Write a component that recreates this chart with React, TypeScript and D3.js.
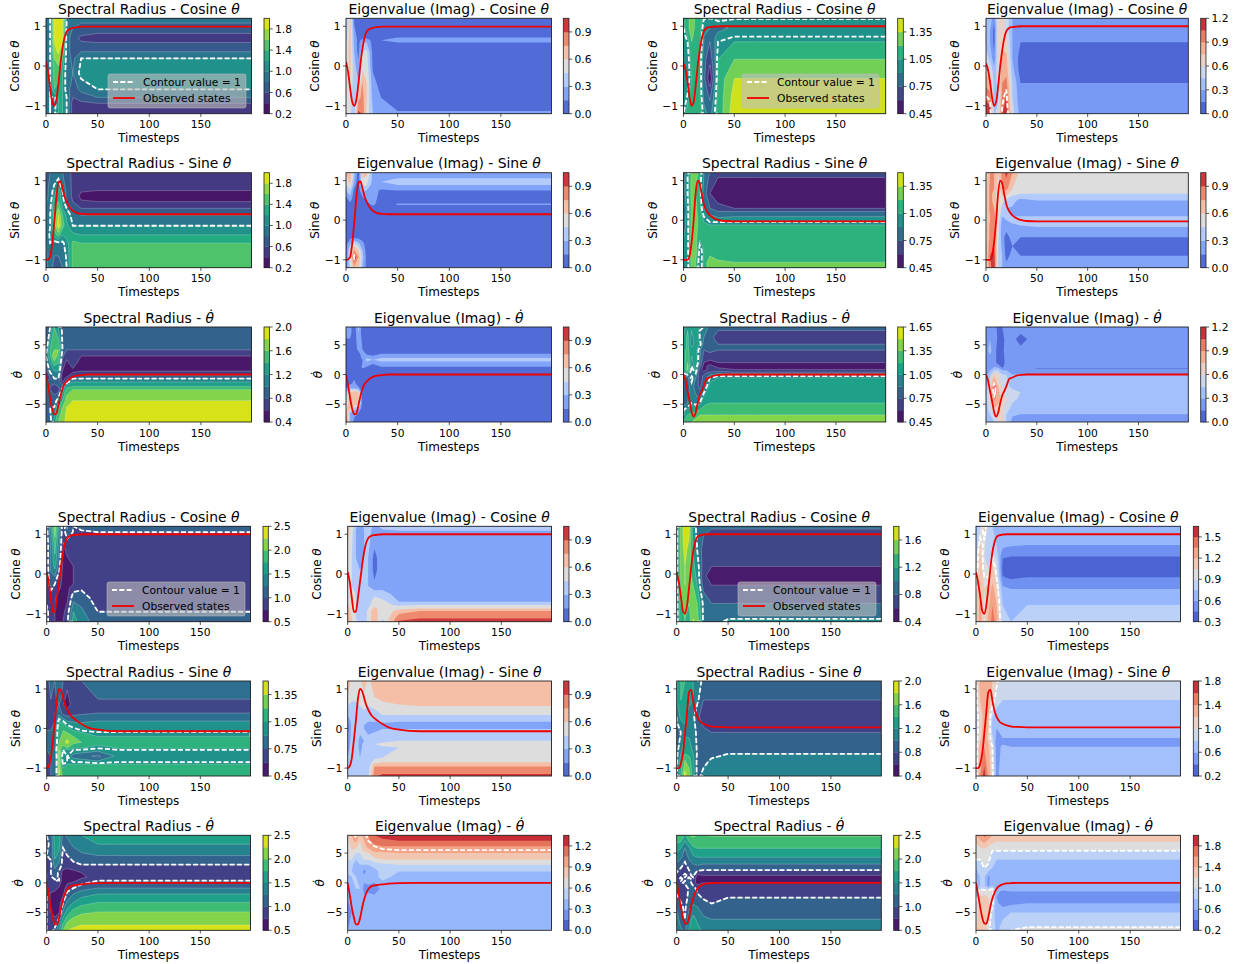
import React from 'react';
import * as d3 from 'd3';

// ---------- shared data ----------
const colT = [0, 4, 8, 12, 16, 20, 26, 34, 50, 70, 199];
const obsT = [0, 2, 4, 6, 8, 10, 12, 14, 16, 18, 20, 23, 26, 30, 35, 40, 50, 70, 199];

const cosA = [.11, -.15, -.55, -.9, -1, -.85, -.45, .05, .45, .72, .87, .93, .96, .98, .99, .99, .99, .99, .99];
const sinA = [-1, -.99, -.93, -.6, -.05, .55, .95, .98, .8, .6, .47, .32, .24, .18, .16, .15, .15, .15, .15];
const dotA = [0, -1.8, -4, -5.8, -6.7, -6.6, -5.2, -3.6, -2.4, -1.6, -1.2, -.7, -.4, -.2, -.1, 0, 0, 0, 0];
const cosB = [.07, -.1, -.4, -.8, -1, -.9, -.5, 0, .4, .7, .88, .96, .98, .99, 1, 1, 1, 1, 1];
const sinB = [-1, -1, -1, -.9, -.55, 0, .7, 1, .92, .65, .4, .22, .12, .05, 0, -.02, -.03, -.03, -.03];
const dotB = [0, -1, -2.8, -4.5, -6.3, -7.1, -6.4, -4.8, -3.5, -2.8, -2, -.7, -.5, -.2, -.05, 0, 0, 0, 0];
const cosC = [.05, -.2, -.6, -.95, -.95, -.6, -.2, .2, .55, .78, .9, .96, .98, .99, 1, 1, 1, 1, 1];
const sinC = [-1, -.95, -.75, -.3, .2, .75, 1, .95, .78, .6, .48, .34, .26, .18, .1, .03, -.03, -.07, -.07];
const dotC = [0, -2, -4.2, -5.8, -7, -7, -6, -4.3, -2.8, -1.8, -1.1, -.6, -.45, -.35, -.25, -.15, -.05, 0, 0];
const cosD = [.05, -.2, -.55, -.92, -1, -.8, -.35, .15, .55, .8, .93, .98, .99, 1, 1, 1, 1, 1, 1];
const sinD = [-1, -1, -.9, -.65, -.15, .4, .92, .98, .7, .45, .3, .17, .12, .08, .05, .04, .03, .03, .03];
const dotD = [0, -2, -4, -5.8, -6.8, -6.9, -5.8, -4, -2.6, -1.7, -1, -.5, -.25, -.1, -.03, 0, 0, 0, 0];

// Each row: state value, then the field at t = 0,4,8,12,16,20,26,34,50 and the settled value.
const specCosA = [
  [1.2, .85, 1, 1.9, 1.9, 1.85, .95, .9, .9, .9, .9],
  [1.08, .85, 1, 1.9, 1.9, 1.85, 1, .85, .8, .8, .8],
  [.82, .85, 1, 1.85, 1.9, 1.82, .9, .75, .65, .6, .6],
  [.7, .85, 1, 1.85, 1.9, 1.8, .9, .7, .55, .5, .5],
  [.59, .85, 1, 1.8, 1.9, 1.8, .9, .7, .62, .6, .6],
  [.36, .9, 1, 1.7, 1.85, 1.6, .9, .7, .8, .8, .8],
  [.19, .9, 1, 1.6, 1.7, 1.4, .9, .75, 1, 1, 1],
  [-.18, .9, 1, 1.5, 1.5, 1.2, .9, .8, 1.08, 1.1, 1.1],
  [-.59, .9, 1, 1.4, 1.3, 1.2, .9, .7, .85, 1, 1],
  [-.79, .9, 1, .95, 1.2, 1.2, 1, .6, .7, .8, .8],
  [-.94, .9, 1, .9, 1.2, 1.2, 1, .5, .55, .6, .6],
  [-1.2, .9, 1, .95, 1.2, 1.2, 1, .5, .5, .5, .5],
];
const eigCosA = [
  [1.2, .3, .65, .1, .05, .05, .05, .05, .05, .05, .05],
  [.72, .4, .65, .25, .08, .1, .1, .05, .1, .15, .15],
  [.65, .4, .65, .25, .1, .2, .25, .08, .15, .22, .22],
  [.59, .45, .65, .25, .1, .3, .3, .08, .08, .15, .15],
  [.35, .5, .65, .3, .1, .45, .5, .1, .05, .05, .05],
  [0, .5, .65, .35, .2, .55, .55, .12, .05, .05, .05],
  [-.4, .55, .6, .35, .3, .75, .6, .2, .08, .05, .05],
  [-.8, .6, .55, .3, .7, .8, .6, .25, .15, .05, .05],
  [-1.13, .55, .5, .3, .9, .85, .55, .3, .2, .15, .15],
  [-1.2, .5, .5, .3, 1, .9, .55, .3, .22, .2, .2],
];
const specSinA = [
  [1.2, .7, .8, .8, .85, .8, .7, .55, .5, .5, .5],
  [.75, .75, .85, 1.1, 1.3, 1, .75, .55, .42, .4, .4],
  [.61, .75, .85, 1.2, 1.35, 1.05, .75, .55, .35, .3, .3],
  [.47, .8, .9, 1.3, 1.4, 1.1, .8, .6, .42, .4, .4],
  [.3, .8, .95, 1.4, 1.6, 1.2, 1, .75, .6, .6, .6],
  [.13, .8, 1, 1.5, 1.8, 1.4, 1.15, .9, .8, .8, .8],
  [-.14, .8, 1, 1.5, 1.9, 1.5, 1.25, 1, 1, 1, 1],
  [-.37, .8, 1.05, 1.3, 1.5, 1.2, 1.3, 1.25, 1.2, 1.2, 1.2],
  [-.58, .8, 1, .9, .95, .95, 1.1, 1.45, 1.4, 1.4, 1.4],
  [-.9, .75, .95, .8, .8, .8, 1.05, 1.45, 1.45, 1.45, 1.45],
  [-1.2, .75, .9, .7, .7, .8, 1, 1.45, 1.5, 1.5, 1.5],
];
const eigSinA = [
  [1.2, .6, .7, .35, .05, .6, .65, .25, .2, .2, .2],
  [1.06, .55, .7, .3, .05, .6, .55, .25, .28, .3, .3],
  [.97, .5, .65, .25, .05, .55, .5, .25, .3, .37, .37],
  [.89, .45, .6, .2, .05, .5, .45, .22, .25, .3, .3],
  [.75, .3, .4, .1, .05, .35, .3, .2, .13, .15, .15],
  [.55, .1, .25, .05, .05, .1, .2, .2, .1, .08, .08],
  [.4, .05, .1, .05, .05, .05, .1, .18, .08, .16, .16],
  [.25, .05, .05, .03, .03, .03, .03, .05, .05, .08, .08],
  [0, .03, .03, .03, .03, .03, .03, .03, .03, .03, .03],
  [-.45, .05, .13, .15, .13, .1, .05, .03, .03, .03, .03],
  [-.6, .08, .3, .5, .35, .2, .08, .03, .03, .03, .03],
  [-.75, .1, .45, .75, .6, .3, .08, .03, .03, .03, .03],
  [-.92, .1, .5, 1.06, .75, .35, .1, .03, .03, .03, .03],
  [-1.2, .1, .45, .7, .65, .3, .1, .03, .03, .03, .03],
];
const specDotA = [
  [8, .9, 1, 1.4, 1.2, .95, .85, .85, .9, .9, .9],
  [4.15, .9, 1.4, 1.6, 1.6, 1, .8, .8, .8, .8, .8],
  [3.1, 1, 1.4, 1.8, 1.5, .85, .65, .6, .6, .6, .6],
  [1.9, .9, 1.2, 1.5, 1.4, .7, .55, .7, .5, .5, .5],
  [.57, .7, 1.05, 1.2, 1.2, .6, .45, .55, .6, .6, .6],
  [-.1, .6, .9, 1.1, 1.1, .5, .5, .7, .8, .8, .8],
  [-.68, .7, .8, 1, 1, .5, .7, 1, 1, 1, 1],
  [-1.25, .8, .8, .9, .9, .55, .9, 1.2, 1.2, 1.2, 1.2],
  [-2, .8, .8, .7, .8, .9, 1.3, 1.4, 1.4, 1.4, 1.4],
  [-2.55, .8, .8, .7, .7, 1.1, 1.5, 1.6, 1.6, 1.6, 1.6],
  [-4.4, .8, .9, .9, 1.1, 1.4, 1.7, 1.8, 1.8, 1.8, 1.8],
  [-5.5, .8, 1, 1, 1.4, 1.6, 1.8, 1.85, 1.9, 1.9, 1.9],
  [-8, .9, .9, 1.3, 1.6, 1.75, 1.85, 1.9, 1.95, 1.95, 1.95],
];
const eigDotA = [
  [8, .2, .2, .05, .35, .05, .05, .05, .05, .05, .05],
  [7, .2, .2, .05, .3, .05, .05, .05, .05, .05, .05],
  [4.2, .05, .05, .05, .2, .15, .05, .05, .05, .05, .05],
  [3.5, .05, .05, .05, .08, .25, .12, .1, .15, .15, .15],
  [2.8, .05, .05, .05, .05, .2, .3, .2, .3, .3, .3],
  [2.5, .05, .05, .05, .05, .15, .35, .3, .35, .37, .37],
  [2.2, .05, .05, .05, .05, .15, .3, .2, .3, .3, .3],
  [1.3, .05, .05, .05, .05, .18, .15, .1, .15, .15, .15],
  [.5, .05, .05, .05, .05, .1, .05, .05, .05, .05, .05],
  [-1.5, .1, .1, .2, .05, .05, .05, .05, .05, .05, .05],
  [-2.3, .15, .3, .3, .2, .05, .05, .05, .05, .05, .05],
  [-3, .3, .65, .7, .65, .05, .05, .05, .05, .05, .05],
  [-5, .5, .7, .7, .6, .08, .05, .05, .05, .05, .05],
  [-5.8, .6, .6, .35, .3, .05, .05, .05, .05, .05, .05],
  [-6.5, .8, .3, .2, .15, .05, .05, .05, .05, .05, .05],
  [-8, .95, .3, .1, .05, .05, .05, .05, .05, .05, .05],
];

const specCosB = [
  [1.2, 1.05, 1.1, 1.35, 1.15, 1.15, 1, 1, 1.1, 1.03, 1.03],
  [1.18, 1.05, 1.1, 1.35, 1.15, 1.15, 1, .95, 1.05, 1, 1],
  [.96, 1, 1.15, 1.3, 1.15, 1.1, .95, .9, .85, .93, .93],
  [.74, .95, 1.05, 1.25, 1.1, 1.1, .9, .8, .95, 1, 1],
  [.61, .95, 1, 1.2, 1.1, 1.1, .9, .75, 1, 1.05, 1.05],
  [.17, .95, .95, 1.1, 1.05, 1.1, .8, .65, 1.05, 1.2, 1.2],
  [-.31, .9, .95, 1.05, 1.05, 1.1, .8, .48, 1.1, 1.35, 1.35],
  [-.7, .95, 1, 1.1, 1.1, 1.1, .85, .7, 1.1, 1.4, 1.4],
  [-1.2, 1, 1.1, 1.2, 1.2, 1.15, .95, .85, 1.1, 1.45, 1.45],
];
const eigCosB = [
  [1.2, .3, .4, .2, .65, .65, .55, .3, .25, .25, .25],
  [.9, .3, .3, .1, .65, .65, .55, .3, .25, .25, .25],
  [.6, .35, .3, .1, .7, .7, .65, .3, .15, .15, .15],
  [.2, .55, .4, .2, .6, .8, .8, .3, .08, .08, .08],
  [-.1, .7, .6, .35, .55, .85, .85, .35, .08, .07, .07],
  [-.43, .85, .8, .4, .5, .9, .95, .45, .15, .15, .15],
  [-.75, 1, .95, .35, .4, .95, 1.05, .45, .2, .25, .25],
  [-1, 1.1, 1.05, .3, .5, 1, 1.1, .5, .2, .25, .25],
  [-1.2, 1.2, 1.1, .4, .6, 1.05, 1.2, .5, .25, .25, .25],
];
const specSinB = [
  [1.2, .85, .95, 1.2, 1.3, 1.1, .9, .75, .7, .7, .7],
  [1.08, .85, 1, 1.25, 1.3, 1.05, .9, .7, .6, .6, .6],
  [.68, .85, 1, 1.25, 1.2, 1.05, .85, .6, .5, .5, .5],
  [.3, .8, .95, 1.25, 1.25, 1.1, .9, .75, .65, .6, .6],
  [.22, .8, .95, 1.25, 1.25, 1.1, .95, .8, .75, .75, .75],
  [.09, .85, .95, 1.25, 1.25, 1.15, 1, .95, .88, .9, .9],
  [-.05, .85, .95, 1.25, 1.25, 1.15, 1.05, 1, 1, 1, 1],
  [-.12, .85, .95, 1.25, 1.25, 1.15, 1.1, 1.05, 1.05, 1.05, 1.05],
  [-.5, .9, .95, 1.3, 1.25, 1.05, 1.05, 1.1, 1.1, 1.1, 1.1],
  [-.75, .9, .95, 1.3, 1.3, .95, 1.05, 1.1, 1.1, 1.1, 1.1],
  [-1.06, .9, .95, 1.25, 1.2, .9, 1.1, 1.3, 1.22, 1.2, 1.2],
  [-1.2, .9, .95, 1.25, 1.2, .9, 1.1, 1.3, 1.3, 1.25, 1.25],
];
const eigSinB = [
  [1.2, .55, .75, .75, .6, .8, .95, .75, .55, .55, .55],
  [.8, .55, .8, .75, .5, .75, .8, .6, .5, .5, .5],
  [.67, .55, .8, .7, .45, .65, .65, .5, .45, .45, .45],
  [.5, .55, .8, .7, .5, .5, .4, .35, .25, .3, .3],
  [.29, .55, .8, .75, .6, .4, .3, .28, .2, .22, .22],
  [.1, .55, .75, .8, .6, .3, .3, .3, .3, .3, .3],
  [0, .55, .75, .8, .55, .25, .3, .35, .37, .38, .38],
  [-.17, .55, .8, .85, .5, .2, .2, .25, .28, .3, .3],
  [-.43, .55, .8, .9, .5, .2, .1, .2, .15, .15, .15],
  [-.66, .55, .85, .9, .45, .25, .08, .15, .06, .08, .08],
  [-.9, .55, .9, .95, .45, .3, .1, .2, .15, .15, .15],
  [-1.2, .55, .85, 1, .4, .3, .2, .25, .25, .25, .25],
];
const specDotB = [
  [8, 1, 1.1, 1.05, 1.1, 1.05, 1, .85, .85, .85, .85],
  [7.4, 1, 1.2, 1.05, 1.15, 1, .95, .85, .75, .75, .75],
  [6.25, 1.05, 1.25, 1, 1.15, 1, .9, .8, .68, .68, .68],
  [5.1, 1.1, 1.25, 1, 1.1, 1.05, .85, .75, .75, .75, .75],
  [4.6, 1.1, 1.25, 1.05, 1.1, 1, .8, .8, .82, .82, .82],
  [4.1, 1.15, 1.25, 1.1, 1.1, .95, .75, .8, .75, .75, .75],
  [2, 1.1, 1.35, 1, 1.15, .9, .6, .55, .6, .6, .6],
  [1.4, 1.05, 1.4, 1, 1.1, .8, .55, .65, .55, .52, .52],
  [.85, 1.05, 1.4, .95, 1.1, .7, .5, .7, .65, .6, .6],
  [.4, 1, 1.25, .9, 1.05, .65, .65, .75, .8, .75, .75],
  [.17, 1, 1.05, .9, 1, .6, .7, .85, .9, .9, .9],
  [-.28, .9, .95, 1, .95, .65, .8, .95, 1, 1, 1],
  [-.57, .85, .85, 1.05, .9, .65, .8, 1, 1.05, 1.05, 1.05],
  [-2, .8, .85, .95, .85, .7, .9, 1.1, 1.1, 1.1, 1.1],
  [-4.8, .85, .9, 1, .95, 1, 1.15, 1.2, 1.2, 1.2, 1.2],
  [-6.8, 1.1, 1.2, 1.25, 1.3, 1.35, 1.35, 1.35, 1.35, 1.35, 1.35],
  [-8, 1.2, 1.3, 1.35, 1.4, 1.45, 1.45, 1.45, 1.45, 1.45, 1.45],
];
const eigDotB = [
  [8, .25, .25, .2, .12, .15, .25, .25, .25, .25, .25],
  [6, .2, .3, .25, .12, .1, .2, .2, .08, .25, .25],
  [4, .25, .35, .2, .1, .12, .2, .2, .2, .25, .25],
  [2, .2, .2, .2, .1, .08, .2, .25, .25, .25, .25],
  [1.3, .2, .2, .3, .25, .1, .25, .25, .25, .2, .2],
  [1, .2, .2, .35, .35, .2, .25, .25, .2, .14, .14],
  [.7, .2, .3, .45, .45, .3, .3, .25, .25, .2, .2],
  [0, .25, .4, .7, .65, .45, .45, .3, .3, .3, .3],
  [-2, .3, .65, 1.1, .75, .55, .5, .4, .42, .38, .38],
  [-3, .35, .65, 1.1, .8, .65, .55, .5, .45, .38, .38],
  [-4, .4, .65, .95, .8, .7, .6, .5, .42, .38, .38],
  [-6, .4, .5, .7, .7, .65, .5, .38, .36, .32, .32],
  [-6.7, .35, .45, .55, .65, .65, .45, .32, .3, .3, .3],
  [-8, .3, .35, .45, .6, .65, .45, .25, .25, .25, .25],
];

const specCosC = [
  [1.2, .9, 1.5, 2.2, 1.5, .8, 1.3, 1, 1.1, 1.1, 1.1],
  [1.05, .9, 1.4, 2.1, 1.4, .8, 1.2, .98, .95, 1, 1],
  [.8, .85, 1.3, 1.9, 1.3, .75, .9, .8, .85, .85, .85],
  [.2, .85, 1.3, 1.6, 1.1, .7, .65, .75, .85, .85, .85],
  [-.25, .8, 1.15, 1, .8, .7, .6, .75, .85, .85, .85],
  [-.35, .8, 1.05, .95, .8, .65, .65, .9, .95, .85, .85],
  [-.6, .9, .85, .8, .6, .7, .7, 1.15, 1.15, .85, .85],
  [-.95, 1.1, .8, .75, .6, .7, .85, 1.5, 1.3, 1, 1],
  [-1.2, 1.1, .8, .75, .7, .75, .95, 1.6, 1.4, 1.1, 1.1],
];
const eigCosC = [
  [1.2, .65, .55, .35, .15, .35, .4, .25, .35, .35, .35],
  [1.09, .65, .5, .3, .15, .3, .35, .25, .28, .3, .3],
  [.4, .55, .45, .3, .2, .3, .3, .1, .25, .25, .25],
  [.1, .5, .45, .35, .3, .3, .3, .1, .25, .25, .25],
  [-.3, .5, .45, .4, .3, .35, .3, .18, .25, .25, .25],
  [-.5, .5, .45, .45, .35, .35, .3, .4, .35, .25, .25],
  [-.7, .6, .5, .45, .4, .35, .35, .55, .5, .3, .3],
  [-.78, .6, .5, .45, .4, .35, .4, .55, .5, .42, .45],
  [-.87, .65, .55, .45, .4, .35, .45, .65, .5, .55, .6],
  [-.93, .7, .55, .45, .4, .35, .5, .7, .45, .68, .75],
  [-1.12, .75, .6, .45, .4, .35, .5, .7, .45, .85, .9],
  [-1.2, .75, .6, .5, .4, .35, .5, .7, .4, .92, .95],
];
const specSinC = [
  [1.2, .7, .8, .75, .85, .75, .65, .75, .75, .85, .85],
  [.74, .65, .75, .7, .85, .65, .55, .7, .7, .75, .75],
  [.6, .65, .7, .7, .75, .6, .55, .65, .65, .7, .7],
  [.39, .65, .7, .75, .85, .7, .65, .7, .72, .75, .75],
  [.19, .7, .7, .75, 1.05, 1, .9, .88, .88, .9, .9],
  [-.05, .75, .75, .8, 1.15, 1.2, 1.15, 1.05, 1, .98, .98],
  [-.2, .75, .8, .8, 1.15, 1.25, 1.3, 1.2, 1.15, 1.05, 1.05],
  [-.35, .75, .8, .8, 1.2, 1.3, 1.4, 1.25, 1.2, 1.1, 1.12],
  [-.5, .75, .8, .8, 1.3, 1.1, 1.2, 1.05, 1.05, 1, 1.05],
  [-.54, .75, .8, .8, 1.35, 1, 1.05, 1, 1, .95, 1],
  [-.7, .7, .75, .75, 1.35, .9, 1, .85, .8, .72, .95],
  [-.85, .7, .75, .75, 1.35, .95, 1, 1, 1, .95, 1],
  [-.9, .7, .75, .75, 1.35, 1, 1.05, 1.05, 1.05, 1.05, 1.05],
  [-1.2, .7, .75, .75, 1.4, 1.15, 1.1, 1.12, 1.12, 1.12, 1.12],
];
const eigSinC = [
  [1.2, .7, .55, .5, .55, .7, .55, .7, .7, .7, .7],
  [.8, .6, .5, .5, .5, .55, .5, .6, .65, .7, .7],
  [.57, .45, .4, .4, .45, .5, .45, .5, .55, .58, .6],
  [.34, .3, .3, .35, .35, .4, .35, .35, .45, .45, .45],
  [.17, .15, .35, .35, .3, .3, .3, .3, .33, .3, .3],
  [.08, .1, .35, .4, .3, .3, .2, .2, .25, .25, .25],
  [-.01, .1, .35, .4, .35, .3, .25, .28, .3, .3, .3],
  [-.31, .2, .35, .4, .25, .3, .35, .35, .4, .45, .45],
  [-.4, .25, .35, .4, .25, .35, .35, .45, .5, .52, .52],
  [-.48, .25, .35, .4, .25, .35, .35, .38, .42, .45, .45],
  [-.73, .3, .35, .4, .3, .3, .3, .4, .45, .45, .45],
  [-.85, .3, .4, .4, .3, .3, .3, .55, .6, .6, .6],
  [-.96, .3, .4, .4, .3, .3, .35, .75, .75, .75, .75],
  [-1.15, .35, .4, .4, .3, .3, .4, .8, .9, .9, .9],
  [-1.2, .35, .4, .4, .3, .3, .45, .85, .95, .95, .95],
];
const specDotC = [
  [8, 1, 1.1, 1.7, 1.6, 1.2, 1.3, 1.4, 1.5, 1.6, 1.6],
  [6.5, .95, 1.05, 1.6, 1.6, 1.05, 1.15, 1.3, 1.4, 1.5, 1.5],
  [4.6, 1, 1.05, 1.6, 1.4, .9, 1, 1.1, 1.2, 1.25, 1.25],
  [3.05, .8, .95, 1.35, 1.2, .9, .9, .95, 1, 1, 1],
  [1.7, .75, 1, 1.15, .95, .65, .6, .65, .75, .8, .8],
  [.95, .7, .95, 1.1, .95, .55, .5, .55, .7, .85, .85],
  [.35, .9, .95, .95, 1.05, .55, .65, .7, .85, 1, 1],
  [-.9, .95, .9, .85, .7, .6, .9, 1, 1.15, 1.25, 1.25],
  [-1.9, 1, .7, .65, .6, .7, 1.05, 1.25, 1.4, 1.5, 1.5],
  [-3.3, 1, .7, .6, .6, 1, 1.3, 1.5, 1.65, 1.75, 1.75],
  [-4.9, 1, .75, .65, .7, 1.3, 1.6, 1.85, 1.95, 2, 2],
  [-7.1, 1, .8, .9, 1.3, 1.8, 2.1, 2.2, 2.25, 2.25, 2.25],
  [-8, 1, .9, 1.1, 1.5, 2, 2.25, 2.3, 2.35, 2.35, 2.35],
];
const eigDotC = [
  [8, .75, .9, 1.05, .85, .95, 1.05, 1.2, 1.3, 1.3, 1.3],
  [7.1, .7, .85, .95, .75, .9, 1, 1.15, 1.15, 1.2, 1.2],
  [6.15, .65, .8, .8, .7, .85, .95, 1, 1.05, 1.05, 1.05],
  [5.5, .65, .75, .7, .65, .8, .85, .95, .98, 1, 1],
  [5, .6, .7, .6, .6, .7, .75, .85, .85, .9, .9],
  [3.9, .6, .6, .45, .5, .6, .6, .7, .75, .75, .75],
  [3.05, .5, .5, .35, .45, .45, .45, .5, .55, .6, .6],
  [1.9, .5, .45, .35, .4, .25, .35, .4, .5, .45, .45],
  [1, .4, .45, .45, .35, .35, .4, .4, .5, .4, .4],
  [-1, .35, .4, .45, .45, .25, .25, .2, .35, .4, .4],
  [-3, .3, .4, .4, .4, .35, .4, .4, .4, .4, .4],
  [-5, .2, .3, .35, .35, .4, .4, .4, .4, .4, .4],
  [-8, .3, .35, .4, .4, .4, .4, .4, .4, .4, .4],
];

const specCosD = [
  [1.2, .9, 1.5, 1.7, 1.65, 1.1, .95, .95, .9, .9, .9],
  [1.13, .9, 1.5, 1.7, 1.65, 1.1, .95, .85, .8, .8, .8],
  [.6, .9, 1.5, 1.65, 1.55, 1.2, 1, .7, .7, .7, .7],
  [.19, .9, 1.5, 1.6, 1.5, 1.25, 1.1, .7, .6, .6, .6],
  [-.05, .9, 1.45, 1.6, 1.5, 1.3, 1.15, .65, .5, .5, .5],
  [-.28, .9, 1.4, 1.6, 1.5, 1.4, 1.2, .72, .6, .6, .6],
  [-.74, .9, 1.4, 1.5, 1.4, 1.5, 1.4, .95, .8, .8, .8],
  [-1.13, .9, 1.3, 1.4, 1.3, 1.6, 1.5, .95, .85, 1, 1],
  [-1.2, .9, 1.3, 1.4, 1.3, 1.65, 1.55, .95, .9, 1.05, 1.05],
];
const eigCosD = [
  [1.2, .7, .85, 1.15, .8, .75, .7, .7, .7, .7, .7],
  [.73, .75, 1.1, .95, .8, .85, .75, .65, .62, .6, .6],
  [.44, .85, 1.15, .9, .8, 1, .85, .46, .45, .45, .45],
  [.15, .9, 1.15, .95, .9, 1.1, .95, .4, .38, .38, .38],
  [-.08, .95, 1.2, 1, 1, 1.15, 1, .46, .42, .45, .45],
  [-.38, 1, 1.2, 1.05, 1.1, 1.25, 1.1, .65, .6, .6, .6],
  [-.78, 1, 1.25, 1, 1.15, 1.35, 1.2, .75, .7, .75, .75],
  [-1.2, 1, 1.3, 1, 1.25, 1.4, 1.3, .8, .75, .85, .85],
];
const specSinD = [
  [1.2, 1.15, 1.4, 1.4, 1.35, 1.2, 1.1, .95, .9, .9, .9],
  [.72, 1.2, 1.4, 1.3, 1.3, 1.2, 1.05, .8, .8, .8, .8],
  [.3, 1.05, 1.25, 1.25, 1.05, 1.05, .85, .7, .7, .7, .7],
  [-.1, .9, 1, 1.15, 1.15, 1.1, .95, .85, .8, .8, .8],
  [-.64, .95, 1.2, 1.4, 1.35, 1.2, .98, .85, .95, 1, 1],
  [-.8, .95, 1.3, 1.6, 1.5, 1.25, .95, .95, 1.02, 1.05, 1.05],
  [-1.2, .95, 1.4, 1.9, 1.7, 1.3, .95, 1.05, 1.1, 1.1, 1.1],
];
const eigSinD = [
  [1.2, .95, 1.3, 1.3, 1.3, 1.2, 1.05, .85, .9, .9, .9],
  [.72, .95, 1.2, 1.3, 1.3, 1.1, .9, .8, .8, .8, .8],
  [.3, .9, 1.1, 1.25, 1.2, .8, .7, .7, .7, .7, .7],
  [0, .9, 1.1, 1.3, 1.2, .7, .6, .6, .7, .7, .7],
  [-.24, .9, 1.15, 1.3, 1.15, .85, .55, .6, .6, .6, .6],
  [-.35, .9, 1.2, 1.35, 1.2, .9, .45, .55, .55, .55, .55],
  [-.46, .9, 1.25, 1.4, 1.25, 1, .5, .65, .6, .6, .6],
  [-1.2, .9, 1.4, 1.7, 1.35, 1.05, .55, .7, .72, .72, .72],
];
const specDotD = [
  [8, 2, 2, 1.7, 2, 2.05, 2, 2, 2.02, 2.02, 2.02],
  [5.8, 1.6, 1.5, 1.25, 1.45, 1.7, 1.75, 1.75, 1.75, 1.75, 1.75],
  [4.3, 1.4, 1.3, 1.1, 1.3, 1.45, 1.5, 1.5, 1.5, 1.5, 1.5],
  [3.15, 1.2, 1.1, .95, 1.15, 1.25, 1.3, 1.25, 1.25, 1.25, 1.25],
  [2.15, 1.05, .95, .9, 1, 1.1, 1.05, 1, 1, 1, 1],
  [1.25, .95, .95, 1.05, .95, 1.05, .7, .75, .75, .75, .75],
  [.6, .9, 1.05, .95, 1.05, .95, .6, .65, .65, .65, .65],
  [0, .85, .95, 1.05, 1.1, .9, .65, .75, .75, .75, .75],
  [-1, .9, .95, .8, 1.05, 1.1, .95, .85, .85, .85, .85],
  [-2.5, 1.05, .95, .85, 1.1, 1.1, 1.05, .98, .9, 1, 1],
  [-4, 1.2, 1.05, .95, 1.2, 1.3, 1.25, 1.1, 1.05, 1.1, 1.1],
  [-6.15, 1.4, 1.1, 1, 1.4, 1.6, 1.45, 1.3, 1.25, 1.25, 1.25],
  [-8, 1.5, 1.3, 1.2, 1.5, 1.75, 1.6, 1.45, 1.4, 1.4, 1.4],
];
const eigDotD = [
  [8, 1.4, 1.5, 1.65, 1.6, 1.4, 1.3, 1.3, 1.3, 1.3, 1.3],
  [6.9, 1.25, 1.35, 1.45, 1.3, 1.25, 1.2, 1.2, 1.2, 1.2, 1.2],
  [5.4, 1.05, 1.1, 1.15, 1.1, 1, 1, 1, 1, 1, 1],
  [3.9, 1, 1, 1.05, 1.05, .85, .8, .8, .8, .8, .8],
  [2.5, .8, .85, 1, .95, .8, .75, .75, .75, .75, .75],
  [1, .6, .8, .85, .55, .7, .7, .7, .7, .7, .7],
  [-.5, .6, .8, .85, .55, .8, .75, .7, .7, .7, .7],
  [-1.2, .7, 1.05, 1, 1, 1.05, .75, .65, .65, .65, .65],
  [-1.47, .75, 1.1, 1.1, 1.1, 1.1, .7, .5, .6, .6, .6],
  [-2.4, .95, 1.25, 1.25, 1.2, 1.1, .6, .45, .5, .52, .52],
  [-3.45, 1.05, 1.3, 1.3, 1.25, 1.05, .65, .5, .55, .6, .6],
  [-5, 1.1, 1.35, 1.35, 1.2, .9, .7, .75, .8, .8, .8],
  [-7.45, 1.15, 1.4, 1.35, 1.05, .9, .75, .85, .95, 1, 1],
  [-8, 1.2, 1.4, 1.35, 1.1, .95, .75, .9, 1, 1.05, 1.05],
];

type Band = [number, number, number, number[], number];
const bands0_105: Band = [0, .15, 7, [0, .3, .6, .9], 1];

// ---------- layout ----------
const colFrames = {
  A: [[46, 251.5, 264, 269.5], [346, 551.5, 563.3, 569]],
  B: [[683.5, 885.7, 897.7, 903.3], [986, 1188.3, 1200.7, 1206]],
  C: [[46.7, 250.5, 263, 268.3], [347.7, 551.5, 563.7, 569]],
  D: [[676.7, 881.3, 893.7, 899], [976, 1180.5, 1193.3, 1198.7]],
};
const rowFrames = {
  A: [[18.3, 113.7], [172.7, 267.7], [327, 422]],
  B: [[18.3, 113.7], [172.7, 267.7], [327, 422]],
  C: [[526.3, 621.7], [681, 776], [835.3, 930.3]],
  D: [[526.3, 621.7], [681, 776], [835.3, 930.3]],
};
const legendBoxes = { A: [108, 74, 138, 34], B: [742, 74, 137, 34], C: [107, 582, 138, 34], D: [738, 582, 138, 34] };

type State = 'cos' | 'sin' | 'dot';
interface Spec { g: 'A' | 'B' | 'C' | 'D'; col: number; row: number; state: State; rows: number[][]; obs: number[]; band: Band; }

const specs: Spec[] = [
  { g: 'A', col: 0, row: 0, state: 'cos', rows: specCosA, obs: cosA, band: [.2, .2, 9, [.2, .6, 1, 1.4, 1.8], 1] },
  { g: 'A', col: 1, row: 0, state: 'cos', rows: eigCosA, obs: cosA, band: bands0_105 },
  { g: 'A', col: 0, row: 1, state: 'sin', rows: specSinA, obs: sinA, band: [.2, .2, 9, [.2, .6, 1, 1.4, 1.8], 1] },
  { g: 'A', col: 1, row: 1, state: 'sin', rows: eigSinA, obs: sinA, band: bands0_105 },
  { g: 'A', col: 0, row: 2, state: 'dot', rows: specDotA, obs: dotA, band: [.4, .2, 8, [.4, .8, 1.2, 1.6, 2], 1] },
  { g: 'A', col: 1, row: 2, state: 'dot', rows: eigDotA, obs: dotA, band: bands0_105 },
  { g: 'B', col: 0, row: 0, state: 'cos', rows: specCosB, obs: cosB, band: [.45, .15, 7, [.45, .75, 1.05, 1.35], 2] },
  { g: 'B', col: 1, row: 0, state: 'cos', rows: eigCosB, obs: cosB, band: [0, .15, 8, [0, .3, .6, .9, 1.2], 1] },
  { g: 'B', col: 0, row: 1, state: 'sin', rows: specSinB, obs: sinB, band: [.45, .15, 7, [.45, .75, 1.05, 1.35], 2] },
  { g: 'B', col: 1, row: 1, state: 'sin', rows: eigSinB, obs: sinB, band: bands0_105 },
  { g: 'B', col: 0, row: 2, state: 'dot', rows: specDotB, obs: dotB, band: [.45, .15, 8, [.45, .75, 1.05, 1.35, 1.65], 2] },
  { g: 'B', col: 1, row: 2, state: 'dot', rows: eigDotB, obs: dotB, band: [0, .15, 8, [0, .3, .6, .9, 1.2], 1] },
  { g: 'C', col: 0, row: 0, state: 'cos', rows: specCosC, obs: cosC, band: [.5, .25, 8, [.5, 1, 1.5, 2, 2.5], 1] },
  { g: 'C', col: 1, row: 0, state: 'cos', rows: eigCosC, obs: cosC, band: bands0_105 },
  { g: 'C', col: 0, row: 1, state: 'sin', rows: specSinC, obs: sinC, band: [.45, .15, 7, [.45, .75, 1.05, 1.35], 2] },
  { g: 'C', col: 1, row: 1, state: 'sin', rows: eigSinC, obs: sinC, band: bands0_105 },
  { g: 'C', col: 0, row: 2, state: 'dot', rows: specDotC, obs: dotC, band: [.5, .25, 8, [.5, 1, 1.5, 2, 2.5], 1] },
  { g: 'C', col: 1, row: 2, state: 'dot', rows: eigDotC, obs: dotC, band: [0, .15, 9, [0, .3, .6, .9, 1.2], 1] },
  { g: 'D', col: 0, row: 0, state: 'cos', rows: specCosD, obs: cosD, band: [.4, .2, 7, [.4, .8, 1.2, 1.6], 1] },
  { g: 'D', col: 1, row: 0, state: 'cos', rows: eigCosD, obs: cosD, band: [.3, .15, 9, [.3, .6, .9, 1.2, 1.5], 1] },
  { g: 'D', col: 0, row: 1, state: 'sin', rows: specSinD, obs: sinD, band: [.4, .2, 8, [.4, .8, 1.2, 1.6, 2], 1] },
  { g: 'D', col: 1, row: 1, state: 'sin', rows: eigSinD, obs: sinD, band: [.2, .2, 8, [.2, .6, 1, 1.4, 1.8], 1] },
  { g: 'D', col: 0, row: 2, state: 'dot', rows: specDotD, obs: dotD, band: [.5, .25, 8, [.5, 1, 1.5, 2, 2.5], 1] },
  { g: 'D', col: 1, row: 2, state: 'dot', rows: eigDotD, obs: dotD, band: [.2, .2, 9, [.2, .6, 1, 1.4, 1.8], 1] },
];

const stateLabel: Record<State, string> = { cos: 'Cosine ', sin: 'Sine ', dot: '' };
const coolwarm = d3.scaleLinear<string>()
  .domain([0, .125, .25, .375, .5, .625, .75, .875, 1])
  .range(['#3b4cc0', '#6282ea', '#8db0fe', '#b8d0f9', '#dddddd', '#f5c4ad', '#f49a7b', '#de604d', '#b40426'])
  .interpolate(d3.interpolateRgb as any);

const FONT = '"DejaVu Sans", sans-serif';
const TICK = 10.7;
const LABEL = 12;
const TITLE = 13.9;
const LINE_W = 1.8;
const DASH = '5 2.3';

function Theta({ dot }: { dot: boolean }) {
  return <tspan fontStyle="italic">{dot ? 'θ\u0307' : 'θ'}</tspan>;
}

function ringPieces(ring: number[][], nx: number, ny: number): number[][][] {
  const edge = (p: number[]) => p[0] <= 0 || p[0] >= nx || p[1] <= 0 || p[1] >= ny;
  const pts = ring.slice(0, -1);
  const n = pts.length;
  let start = -1;
  for (let i = 0; i < n; i++) {
    if (edge(pts[i]) && edge(pts[(i + 1) % n])) { start = (i + 1) % n; break; }
  }
  if (start < 0) return [ring];
  const out: number[][][] = [];
  let cur: number[][] = [];
  for (let k = 0; k < n; k++) {
    const p = pts[(start + k) % n];
    const q = pts[(start + k + 1) % n];
    cur.push(p);
    if (edge(p) && edge(q)) {
      if (cur.length > 1) out.push(cur);
      cur = [];
    }
  }
  if (cur.length > 1) out.push(cur);
  return out;
}

function Panel({ s, kind, idx }: { s: Spec; kind: string; idx: number }) {
  const [x0, x1, c0, c1] = colFrames[s.g][s.col];
  const [y0, y1] = rowFrames[s.g][s.row];
  const range = s.state === 'dot' ? 8 : 1.2;
  const x = d3.scaleLinear().domain([0, 199]).range([x0, x1]);
  const y = d3.scaleLinear().domain([-range, range]).range([y1, y0]);
  const [lo, step, nb, cbTicks, dec] = s.band;
  const levels = d3.range(nb + 1).map(i => +(lo + i * step).toFixed(4));
  const color = (i: number) => {
    const t = (i + .5) / nb;
    return kind === 'S' ? d3.interpolateViridis(t) : d3.rgb(coolwarm(t)).formatHex();
  };
  const rowY = s.rows.map(r => r[0]);
  // the last listed value is the settled one and holds from t = 70 on
  const flat = s.rows.flatMap(r => [...r.slice(1), r[r.length - 1]]);
  const nx = colT.length, ny = rowY.length;
  const gx = d3.scaleLinear().domain(colT.map((_, i) => i + .5)).range(colT).clamp(true);
  const gy = d3.scaleLinear().domain(rowY.map((_, i) => i + .5)).range(rowY).clamp(true);
  const px = (p: number[]) => `${x(gx(p[0])).toFixed(2)},${y(gy(p[1])).toFixed(2)}`;
  const contours = d3.contours().size([nx, ny]).smooth(true);
  const bandPaths = levels.slice(1, -1).map((lv) => {
    const c = contours.contour(flat, lv);
    return c.coordinates.map(poly => poly.map(r => 'M' + r.map(px).join('L') + 'Z').join('')).join('');
  });
  const linesAt = (lv: number) => {
    const c = contours.contour(flat, lv);
    return c.coordinates.flatMap(poly => poly.flatMap(r => ringPieces(r, nx, ny)))
      .map(seg => 'M' + seg.map(px).join('L')).join('');
  };
  const seams = kind === 'S' ? levels.slice(1, -1).map(linesAt).join('') : '';
  const unit = linesAt(1);
  const line = d3.line<number>().x((_, i) => x(obsT[i])).y(v => y(v)).curve(d3.curveMonotoneX);
  const cy = d3.scaleLinear().domain([levels[0], levels[nb]]).range([y1, y0]);
  const cid = `clip${idx}`;
  const name = kind === 'S' ? 'Spectral Radius - ' : 'Eigenvalue (Imag) - ';
  const dot = s.state === 'dot';
  const yTicks = dot ? [-5, 0, 5] : [-1, 0, 1];
  const fmt = (v: number) => (v < 0 ? '\u2212' + Math.abs(v) : String(v));
  const yLabX = x0 - (dot ? 28 : 31);
  const yMid = (y0 + y1) / 2;
  return (
    <g fontFamily={FONT} fill="#000">
      <clipPath id={cid}><rect x={x0} y={y0} width={x1 - x0} height={y1 - y0} /></clipPath>
      <g clipPath={`url(#${cid})`}>
        <rect x={x0} y={y0} width={x1 - x0} height={y1 - y0} fill={color(0)} />
        {bandPaths.map((d, i) => <path key={i} d={d} fill={color(i + 1)} fillRule="evenodd" />)}
        {seams && <path d={seams} fill="none" stroke="#fff" strokeOpacity={.32} strokeWidth={.7} />}
        <path d={unit} fill="none" stroke="#fff" strokeWidth={LINE_W} strokeDasharray={DASH} />
        <path d={line(s.obs) || ''} fill="none" stroke="#f00000" strokeWidth={LINE_W} />
      </g>
      <rect x={x0} y={y0} width={x1 - x0} height={y1 - y0} fill="none" stroke="#222" strokeWidth={.9} />
      {[0, 50, 100, 150].map(t => (
        <g key={t}>
          <line x1={x(t)} x2={x(t)} y1={y1} y2={y1 + 3.2} stroke="#111" strokeWidth={.7} />
          <text x={x(t)} y={y1 + 14.5} fontSize={TICK} textAnchor="middle">{t}</text>
        </g>
      ))}
      {yTicks.map(t => (
        <g key={t}>
          <line x1={x0 - 3.2} x2={x0} y1={y(t)} y2={y(t)} stroke="#111" strokeWidth={.7} />
          <text x={x0 - 5.5} y={y(t) + 4} fontSize={TICK} textAnchor="end">{fmt(t)}</text>
        </g>
      ))}
      <text x={(x0 + x1) / 2} y={y1 + 28.5} fontSize={LABEL} textAnchor="middle">Timesteps</text>
      <text x={(x0 + x1) / 2} y={y0 - 4.5} fontSize={TITLE} textAnchor="middle">
        {name}{stateLabel[s.state]}<Theta dot={dot} />
      </text>
      <text transform={`translate(${yLabX},${yMid}) rotate(-90)`} fontSize={LABEL} textAnchor="middle" dominantBaseline="central">
        {stateLabel[s.state]}<Theta dot={dot} />
      </text>
      {d3.range(nb).map(i => (
        <rect key={i} x={c0} y={cy(levels[i + 1])} width={c1 - c0} height={cy(levels[i]) - cy(levels[i + 1]) + .3} fill={color(i)} />
      ))}
      <rect x={c0} y={y0} width={c1 - c0} height={y1 - y0} fill="none" stroke="#222" strokeWidth={.8} />
      {cbTicks.map(t => (
        <g key={t}>
          <line x1={c1} x2={c1 + 3.2} y1={cy(t)} y2={cy(t)} stroke="#111" strokeWidth={.7} />
          <text x={c1 + 5.5} y={cy(t) + 4} fontSize={TICK}>{t.toFixed(dec)}</text>
        </g>
      ))}
    </g>
  );
}

function Legend({ box }: { box: number[] }) {
  const [bx, by, bw, bh] = box;
  return (
    <g fontFamily={FONT} fontSize={TICK}>
      <rect x={bx} y={by} width={bw} height={bh} rx={2} fill="#c0c0c0" fillOpacity={.6} stroke="#bbb" strokeOpacity={.7} strokeWidth={.8} />
      <line x1={bx + 5} x2={bx + 27} y1={by + 8} y2={by + 8} stroke="#fff" strokeWidth={LINE_W} strokeDasharray={DASH} />
      <line x1={bx + 5} x2={bx + 27} y1={by + 24} y2={by + 24} stroke="#f00000" strokeWidth={LINE_W} />
      <text x={bx + 35} y={by + 12}>Contour value = 1</text>
      <text x={bx + 35} y={by + 28}>Observed states</text>
    </g>
  );
}

export default function App() {
  return (
    <svg width={1237} height={964} style={{ position: 'absolute', left: 0, top: 0, background: '#fff' }}>
      {specs.map((s, i) => <Panel key={i} s={s} idx={i} kind={s.col === 0 ? 'S' : 'E'} />)}
      {Object.values(legendBoxes).map((b, i) => <Legend key={i} box={b} />)}
    </svg>
  );
}
